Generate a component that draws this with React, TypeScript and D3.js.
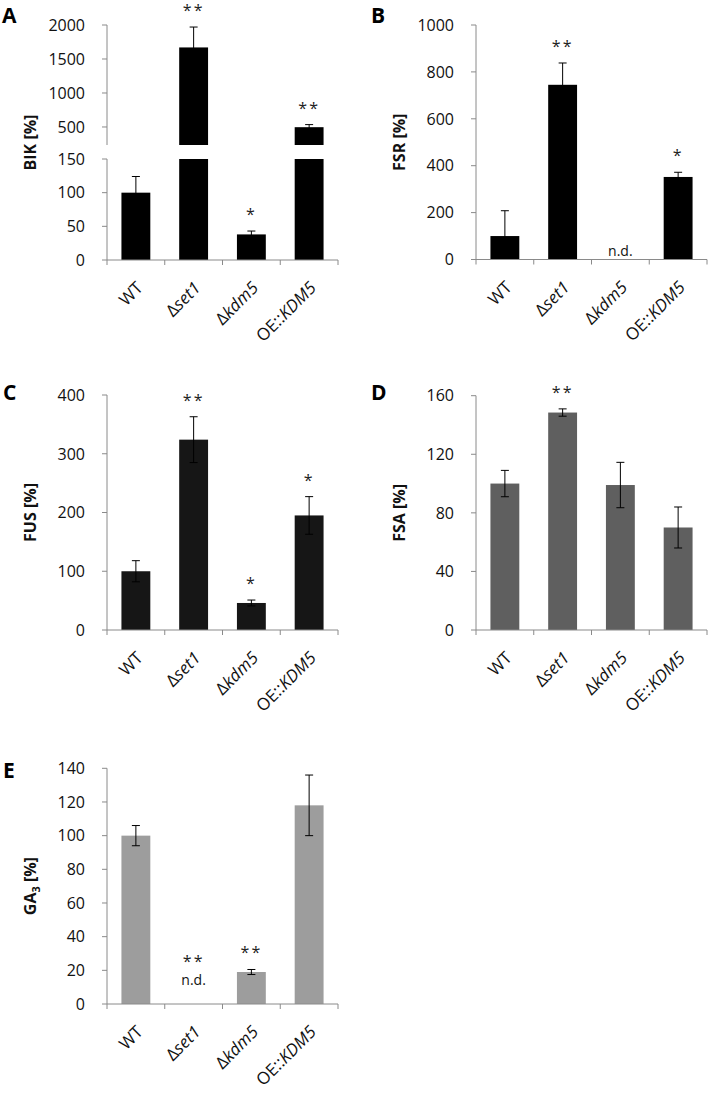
import React from "react";
import * as d3 from "d3";

const categories = ["WT", "Δset1", "Δkdm5", "OE::KDM5"];

const bikValues = [100, 1670, 38, 497];
const bikErrors = [24, 300, 5, 38];
const bikMarks = ["", "**", "*", "**"];
const bikLowerTicks = [0, 50, 100, 150];
const bikUpperTicks = [500, 1000, 1500, 2000];

const fsrValues: (number | null)[] = [100, 745, null, 352];
const fsrErrors: (number | null)[] = [108, 93, null, 20];
const fsrMarks = ["", "**", "", "*"];
const fsrTicks = [0, 200, 400, 600, 800, 1000];

const fusValues = [100, 324, 46, 195];
const fusErrors = [18, 39, 5, 32];
const fusMarks = ["", "**", "*", "*"];
const fusTicks = [0, 100, 200, 300, 400];

const fsaValues = [100, 148.5, 99, 70];
const fsaErrors = [9, 2.5, 15.5, 14];
const fsaMarks = ["", "**", "", ""];
const fsaTicks = [0, 40, 80, 120, 160];

const ga3Values: (number | null)[] = [100, null, 19, 118];
const ga3Errors: (number | null)[] = [6, null, 1.5, 18];
const ga3Marks = ["", "**", "**", ""];
const ga3Ticks = [0, 20, 40, 60, 80, 100, 120, 140];

const FONT = "'Open Sans', 'DejaVu Sans', sans-serif";
const AXIS = "#8a8a8a";
const PLOT_W = 231;

function CatLabel({ name }: { name: string }) {
  if (name.startsWith("Δ")) {
    return (
      <>
        <tspan>Δ</tspan>
        <tspan fontStyle="italic">{name.slice(1)}</tspan>
      </>
    );
  }
  if (name.includes("::")) {
    const [a, b] = name.split("::");
    return (
      <>
        <tspan>{a}::</tspan>
        <tspan fontStyle="italic">{b}</tspan>
      </>
    );
  }
  return <tspan>{name}</tspan>;
}

function XAxis({ left, bottom }: { left: number; bottom: number }) {
  const x = d3.scaleBand<string>().domain(categories).range([left, left + PLOT_W]).paddingInner(0.5).paddingOuter(0.25);
  const step = x.step();
  return (
    <g>
      <line x1={left} x2={left + PLOT_W} y1={bottom} y2={bottom} stroke={AXIS} />
      {d3.range(categories.length + 1).map((i) => (
        <line key={i} x1={left + i * step} x2={left + i * step} y1={bottom} y2={bottom + 5} stroke={AXIS} />
      ))}
      {categories.map((c) => {
        const cx = (x(c) as number) + x.bandwidth() / 2;
        return (
          <text
            key={c}
            transform={`translate(${cx + 8},${bottom + 29}) rotate(-45)`}
            textAnchor="end"
            fontSize={17}
            fontFamily={FONT}
            fill="#111"
          >
            <CatLabel name={c} />
          </text>
        );
      })}
    </g>
  );
}

function YTicks({ left, ticks, scale }: { left: number; ticks: number[]; scale: (v: number) => number }) {
  return (
    <g>
      {ticks.map((t) => (
        <g key={t}>
          <line x1={left - 5} x2={left} y1={scale(t)} y2={scale(t)} stroke={AXIS} />
          <text x={left - 22} y={scale(t)} dy="0.36em" textAnchor="end" fontSize={16} fontFamily={FONT} fill="#111">
            {t}
          </text>
        </g>
      ))}
    </g>
  );
}

function ErrorBar({ cx, y1, y2 }: { cx: number; y1: number; y2: number }) {
  return (
    <g stroke="#000" strokeWidth={1}>
      <line x1={cx} x2={cx} y1={y1} y2={y2} />
      <line x1={cx - 4} x2={cx + 4} y1={y1} y2={y1} />
      <line x1={cx - 4} x2={cx + 4} y1={y2} y2={y2} />
    </g>
  );
}

function Mark({ cx, y, text }: { cx: number; y: number; text: string }) {
  if (!text) return null;
  return (
    <text x={cx} y={y} textAnchor="middle" fontSize={16} fontFamily={FONT} fill="#222" letterSpacing={2}>
      {text}
    </text>
  );
}

function Title({ cx, cy, children }: { cx: number; cy: number; children: React.ReactNode }) {
  return (
    <text transform={`translate(${cx},${cy}) rotate(-90)`} dy="0.35em" textAnchor="middle" fontSize={16} fontWeight="bold" fontFamily={FONT} fill="#111">
      {children}
    </text>
  );
}

function Letter({ x, y, text }: { x: number; y: number; text: string }) {
  return (
    <text x={x} y={y} fontSize={21} fontWeight="bold" fontFamily={FONT} fill="#000">
      {text}
    </text>
  );
}

type PanelProps = {
  left: number;
  top: number;
  bottom: number;
  values: (number | null)[];
  errors: (number | null)[];
  marks: string[];
  ticks: number[];
  color: string;
  title: React.ReactNode;
  ndY?: number;
};

function Panel({ left, top, bottom, values, errors, marks, ticks, color, title, ndY }: PanelProps) {
  const x = d3.scaleBand<string>().domain(categories).range([left, left + PLOT_W]).paddingInner(0.5).paddingOuter(0.25);
  const y = d3.scaleLinear().domain([0, ticks[ticks.length - 1]]).range([bottom, top]);
  return (
    <g>
      <line x1={left} x2={left} y1={top} y2={bottom} stroke={AXIS} />
      <YTicks left={left} ticks={ticks} scale={y} />
      {categories.map((c, i) => {
        const v = values[i];
        const e = errors[i];
        const bx = x(c) as number;
        const cx = bx + x.bandwidth() / 2;
        if (v == null) {
          const base = ndY ?? bottom - 4;
          return (
            <g key={c}>
              <text x={cx} y={base} textAnchor="middle" fontSize={14} fontFamily={FONT} fill="#111">
                n.d.
              </text>
              <Mark cx={cx} y={base - 18} text={marks[i]} />
            </g>
          );
        }
        const errTop = y(v + (e ?? 0));
        return (
          <g key={c}>
            <rect x={bx} y={y(v)} width={x.bandwidth()} height={bottom - y(v)} fill={color} />
            {e != null && <ErrorBar cx={cx} y1={errTop} y2={y(Math.max(0, v - e))} />}
            <Mark cx={cx} y={errTop - 11} text={marks[i]} />
          </g>
        );
      })}
      <XAxis left={left} bottom={bottom} />
      <Title cx={left - 77} cy={(top + bottom) / 2}>{title}</Title>
    </g>
  );
}

function BrokenPanel() {
  const left = 107;
  const bottom = 260;
  const lowerTop = 159;
  const upperBottom = 145;
  const top = 25;
  const x = d3.scaleBand<string>().domain(categories).range([left, left + PLOT_W]).paddingInner(0.5).paddingOuter(0.25);
  const lower = d3.scaleLinear().domain([0, 150]).range([bottom, lowerTop]);
  const upper = d3.scaleLinear().domain([235, 2000]).range([upperBottom, top]);
  return (
    <g>
      <line x1={left} x2={left} y1={top} y2={upperBottom} stroke={AXIS} />
      <line x1={left} x2={left} y1={lowerTop} y2={bottom} stroke={AXIS} />
      <YTicks left={left} ticks={bikUpperTicks} scale={upper} />
      <YTicks left={left} ticks={bikLowerTicks} scale={lower} />
      {categories.map((c, i) => {
        const v = bikValues[i];
        const e = bikErrors[i];
        const bx = x(c) as number;
        const cx = bx + x.bandwidth() / 2;
        const big = v > 150;
        const s = big ? upper : lower;
        const errTop = s(v + e);
        return (
          <g key={c}>
            <rect x={bx} y={lower(Math.min(v, 150))} width={x.bandwidth()} height={bottom - lower(Math.min(v, 150))} fill="#000" />
            {big && <rect x={bx} y={upper(v)} width={x.bandwidth()} height={upperBottom - upper(v)} fill="#000" />}
            <ErrorBar cx={cx} y1={errTop} y2={s(v - e)} />
            <Mark cx={cx} y={errTop - 11} text={bikMarks[i]} />
          </g>
        );
      })}
      <XAxis left={left} bottom={bottom} />
      <Title cx={left - 77} cy={(top + bottom) / 2}>BIK [%]</Title>
    </g>
  );
}

export default function App() {
  return (
    <svg width={709} height={1093} style={{ position: "absolute", left: 0, top: 0, background: "#fff" }}>
      <rect width={709} height={1093} fill="#fff" />
      <Letter x={2} y={23} text="A" />
      <BrokenPanel />
      <Letter x={371} y={23} text="B" />
      <Panel left={476} top={25} bottom={259.5} values={fsrValues} errors={fsrErrors} marks={fsrMarks} ticks={fsrTicks} color="#000" title="FSR [%]" />
      <Letter x={3} y={400} text="C" />
      <Panel left={107} top={395} bottom={630} values={fusValues} errors={fusErrors} marks={fusMarks} ticks={fusTicks} color="#161616" title="FUS [%]" />
      <Letter x={371} y={400} text="D" />
      <Panel left={476} top={395.7} bottom={630} values={fsaValues} errors={fsaErrors} marks={fsaMarks} ticks={fsaTicks} color="#5f5f5f" title="FSA [%]" />
      <Letter x={3} y={778} text="E" />
      <Panel
        left={107}
        top={768.3}
        bottom={1004}
        values={ga3Values}
        errors={ga3Errors}
        marks={ga3Marks}
        ticks={ga3Ticks}
        color="#9d9d9d"
        ndY={985}
        title={
          <>
            <tspan>GA</tspan>
            <tspan fontSize={11} dy={4}>3</tspan>
            <tspan dy={-4}> [%]</tspan>
          </>
        }
      />
    </svg>
  );
}
